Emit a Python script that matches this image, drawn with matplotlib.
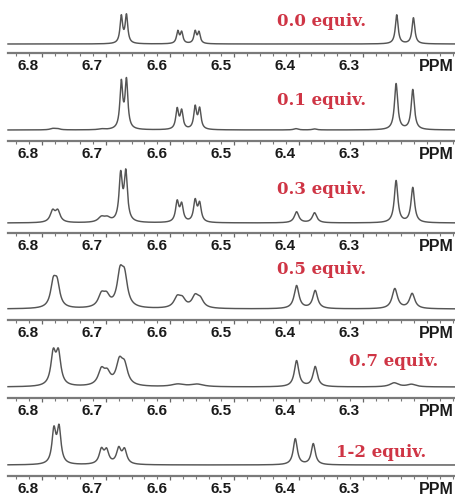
import numpy as np
import matplotlib
matplotlib.use("Agg")
import matplotlib.pyplot as plt
from matplotlib.transforms import ScaledTranslation

# ---------------- data ----------------
labels = ["0.0 equiv.", "0.1 equiv.", "0.3 equiv.", "0.5 equiv.", "0.7 equiv.", "1-2 equiv."]
tick_values = [6.8, 6.7, 6.6, 6.5, 6.4, 6.3]
tick_labels = ["6.8", "6.7", "6.6", "6.5", "6.4", "6.3"]
unit_label = "PPM"

# peak lists per spectrum: centers (ppm), heights (a.u.), half-widths (ppm)
p0_c = [6.676, 6.668, 6.588, 6.582, 6.561, 6.555, 6.247, 6.221]
p0_h = [27, 28, 12, 11, 12, 11, 29, 26]
p0_w = [0.0024, 0.0024, 0.0024, 0.0024, 0.0024, 0.0024, 0.0026, 0.0026]

p1_c = [6.783, 6.776, 6.707, 6.676, 6.668, 6.589, 6.582, 6.561, 6.554, 6.404, 6.375, 6.248, 6.222]
p1_h = [1.2, 1.2, 0.8, 46, 48, 20, 18, 22, 20, 1.3, 1.0, 46, 40]
p1_w = [0.005, 0.005, 0.005, 0.0026, 0.0026, 0.0026, 0.0026, 0.0026, 0.0026, 0.004, 0.004, 0.003, 0.003]

p2_c = [6.783, 6.775, 6.707, 6.698, 6.677, 6.669, 6.589, 6.582, 6.561, 6.554, 6.403, 6.375, 6.248, 6.222]
p2_h = [11, 11, 5, 4, 46, 48, 20, 17, 21, 18, 11, 10, 42, 35]
p2_w = [0.0045, 0.0045, 0.006, 0.006, 0.003, 0.003, 0.003, 0.003, 0.003, 0.003, 0.0042, 0.0042, 0.0033, 0.0033]

p3_c = [6.782, 6.776, 6.707, 6.699, 6.678, 6.671, 6.589, 6.581, 6.561, 6.553, 6.403, 6.374, 6.250, 6.223]
p3_h = [23, 22, 12, 10, 31, 28, 10, 8, 11, 8, 23, 18, 20, 15]
p3_w = [0.005, 0.005, 0.006, 0.006, 0.0055, 0.0055, 0.006, 0.006, 0.006, 0.006, 0.0045, 0.0045, 0.005, 0.005]

p4_c = [6.782, 6.774, 6.707, 6.698, 6.679, 6.671, 6.588, 6.558, 6.403, 6.374, 6.251, 6.224]
p4_h = [31, 31, 15, 11, 22, 18, 2.5, 2.5, 26, 20, 4, 2.5]
p4_w = [0.0045, 0.0045, 0.006, 0.006, 0.006, 0.006, 0.012, 0.012, 0.0042, 0.0042, 0.008, 0.008]

p5_c = [6.781, 6.773, 6.707, 6.699, 6.680, 6.671, 6.405, 6.377]
p5_h = [33, 35, 14, 13, 15, 14, 26, 21]
p5_w = [0.0036, 0.0036, 0.0042, 0.0042, 0.0042, 0.0042, 0.0038, 0.0038]

spectra = [(p0_c, p0_h, p0_w), (p1_c, p1_h, p1_w), (p2_c, p2_h, p2_w),
           (p3_c, p3_h, p3_w), (p4_c, p4_h, p4_w), (p5_c, p5_h, p5_w)]

# ---------------- layout (pixels) ----------------
W, Hfig = 456, 498
spine_y = [53, 141, 233, 320, 398, 476]          # axis line position from top
base_off = [9, 11, 10, 11, 11, 11]               # baseline above axis line
label_xy = [(322, 21), (322, 100), (322, 189), (322, 270), (394, 361.5), (381, 452)]
ax_left, ax_right = 8, 456
x_lo, x_hi = 6.8525, 6.1547
unit_x = 6.185
AH = 60

fig = plt.figure(figsize=(W / 100, Hfig / 100), dpi=100)
x = np.linspace(x_lo, x_hi, 4000)

tick_len, tick_pad = 3.0, 1.3
for i, (c, h, w) in enumerate(spectra):
    ax = fig.add_axes([ax_left / W, 1 - spine_y[i] / Hfig, (ax_right - ax_left) / W, AH / Hfig])
    ax.patch.set_alpha(0)
    y = np.zeros_like(x)
    for ci, hi, wi in zip(c, h, w):
        y += hi * wi ** 2 / ((x - ci) ** 2 + wi ** 2)
    ax.plot(x, y + base_off[i], color="#555555", lw=1.05, clip_on=False)
    ax.set_xlim(x_lo, x_hi)
    ax.set_ylim(0, AH)
    for s in ["top", "left", "right"]:
        ax.spines[s].set_visible(False)
    ax.spines["bottom"].set_color("#7a7a7a")
    ax.spines["bottom"].set_linewidth(1.6)
    ax.set_yticks([])
    ax.set_xticks(tick_values)
    ax.set_xticks(np.arange(6.84, 6.15, -0.02), minor=True)
    ax.set_xticklabels(tick_labels)
    ax.tick_params(axis="x", which="major", length=tick_len, width=0.9, color="#666666",
                   pad=tick_pad, labelsize=11)
    ax.tick_params(axis="x", which="minor", length=1.8, width=0.8, color="#777777")
    off = ScaledTranslation(-13.5 / 100, 0, fig.dpi_scale_trans)
    for lab in ax.get_xticklabels():
        lab.set_fontfamily("Liberation Sans")
        lab.set_fontweight("bold")
        lab.set_color("#1a1a1a")
        lab.set_transform(lab.get_transform() + off)
    ax.annotate(unit_label, xy=(unit_x, 0), xycoords=("data", "axes fraction"),
                xytext=(0, -(tick_len + tick_pad)), textcoords="offset points",
                ha="center", va="top", fontsize=11.5, fontweight="bold",
                family="Liberation Sans", color="#1a1a1a", annotation_clip=False)
    lx, ly = label_xy[i]
    fig.text(lx / W, 1 - ly / Hfig, labels[i], ha="center", va="center",
             fontsize=12, fontweight="bold", family="DejaVu Serif", color="#cf3545")

fig.savefig("out.png", dpi=100)
